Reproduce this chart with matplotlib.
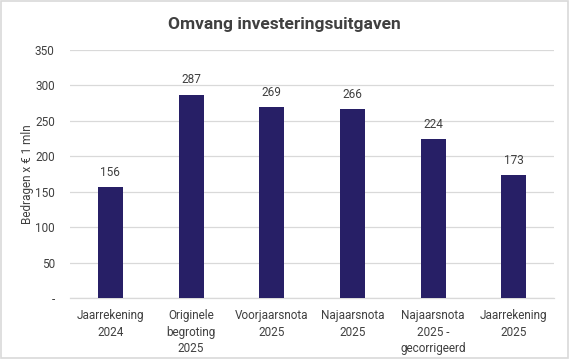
import matplotlib.pyplot as plt
from matplotlib.patches import Rectangle

# ---------------- DATA ----------------
categories = [
    "Jaarrekening\n2024",
    "Originele\nbegroting\n2025",
    "Voorjaarsnota\n2025",
    "Najaarsnota\n2025",
    "Najaarsnota\n2025 -\ngecorrigeerd",
    "Jaarrekening\n2025",
]
values = [156, 287, 269, 266, 224, 173]
yticks = [0, 50, 100, 150, 200, 250, 300, 350]
ytick_labels = ["-", "50", "100", "150", "200", "250", "300", "350"]

BAR_COLOR = "#271F66"
TEXT_COLOR = "#404040"
GRID_COLOR = "#D9D9D9"

plt.rcParams['font.family'] = ['Roboto', 'DejaVu Sans']

fig = plt.figure(figsize=(5.69, 3.59), dpi=100)
ax = fig.add_axes([0.123, 0.170, 0.851, 0.691])

x = range(len(categories))
ax.bar(x, values, width=0.31, color=BAR_COLOR, zorder=3)

for xi, v in zip(x, values):
    ax.annotate(f"{v}", (xi, v), xytext=(0, 6), textcoords="offset points",
                ha="center", va="bottom", fontsize=8.5, color=TEXT_COLOR)

ax.set_xlim(-0.5, len(categories) - 0.5)
ax.set_ylim(0, 350)
ax.set_yticks(yticks)
ax.set_yticklabels(ytick_labels)
ax.set_xticks(list(x))
ax.set_xticklabels(categories, linespacing=1.35)

ax.tick_params(axis="both", length=0, labelsize=8.5, colors=TEXT_COLOR)
ax.tick_params(axis="y", pad=11)
ax.tick_params(axis="x", pad=8)
ax.grid(axis="y", color=GRID_COLOR, linewidth=0.9, zorder=0)
for s in ["top", "right", "left"]:
    ax.spines[s].set_visible(False)
ax.spines["bottom"].set_color(GRID_COLOR)
ax.spines["bottom"].set_linewidth(0.9)

ax.set_ylabel("Bedragen x € 1 mln", fontsize=8.5, color=TEXT_COLOR, labelpad=1)

fig.text(0.5, 0.933, "Omvang investeringsuitgaven", ha="center", va="center",
         fontsize=12.5, fontweight="bold", color=TEXT_COLOR)

# light frame around the chart
fig.patches.append(Rectangle((0.002, 0.003), 0.996, 0.994, transform=fig.transFigure,
                             fill=False, edgecolor="#D9D9D9", linewidth=1.2))

fig.savefig("out.png", dpi=100)
